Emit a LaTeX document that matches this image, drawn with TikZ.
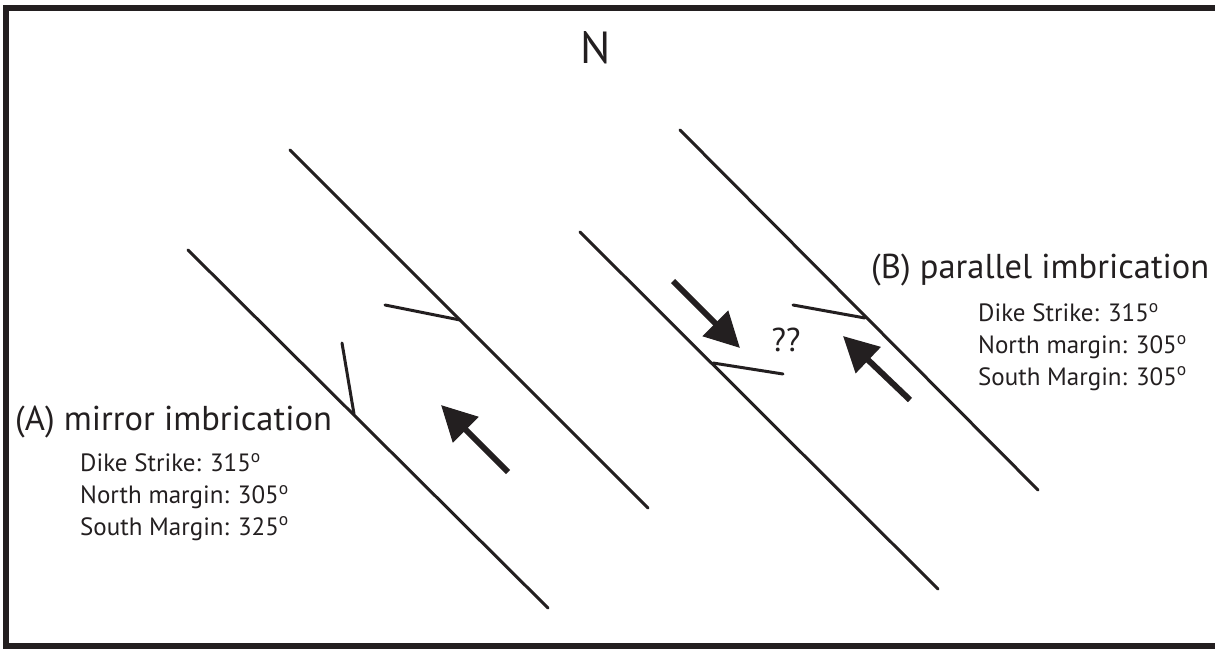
\documentclass[tikz,border=0pt]{standalone}
\usepackage{fontspec}
\setmainfont{PT Sans}
\usetikzlibrary{arrows.meta}
\definecolor{ink}{HTML}{231F20}
\begin{document}
\begin{tikzpicture}[x=1pt,y=-1pt,
  dike/.style={draw=ink,line width=3pt,line cap=round},
  tick/.style={draw=ink,line width=3pt,line cap=round,line join=miter},
  flow/.style={draw=ink,fill=ink,line width=6pt,-{Triangle[length=35pt,width=35pt]}},
  big/.style={text=ink,font=\fontsize{34.5}{38}\selectfont,inner sep=0pt,anchor=base west},
  small/.style={text=ink,font=\fontsize{25}{29}\selectfont,inner sep=0pt,anchor=base west}]
\useasboundingbox (0,0) rectangle (1215,648);
\begin{scope}
\clip (0,0) rectangle (1215,648);
\draw[ink,line width=6pt] (5.5,8) rectangle (1230,646);
\end{scope}
\node[text=ink,font=\fontsize{45}{48}\selectfont,inner sep=0pt,anchor=base] (N) at (596,63.5) {N};
% dikes
\coordinate (a1s) at (188,250); \coordinate (a1e) at (548,608);
\coordinate (a2s) at (290,150); \coordinate (a2e) at (648,508);
\coordinate (b1s) at (580,232); \coordinate (b1e) at (938,589);
\coordinate (b2s) at (680,130); \coordinate (b2e) at (1038,490);
\draw[dike] (a1s) -- (a1e);
\draw[dike] (a2s) -- (a2e);
\draw[dike] (b1s) -- (b1e);
\draw[dike] (b2s) -- (b2e);
% imbrication ticks
\coordinate (ta1) at (342,343); \coordinate (ta1b) at (354,414);
\coordinate (ta2) at (385,305); \coordinate (ta2b) at (460,320);
\coordinate (tb1) at (783,374); \coordinate (tb1b) at (713,363);
\coordinate (tb2) at (793,305); \coordinate (tb2b) at (865,318);
\draw[tick] (ta1) -- (ta1b);
\draw[tick] (ta2) -- (ta2b);
\draw[tick] (tb1) -- (tb1b);
\draw[tick] (tb2) -- (tb2b);
% flow arrows
\coordinate (fa0) at (508,472); \coordinate (fa1) at (441,405);
\coordinate (fb0) at (673,281); \coordinate (fb1) at (740,348);
\coordinate (fc0) at (910,400); \coordinate (fc1) at (843,336);
\draw[flow] (fa0) -- (fa1);
\draw[flow] (fb0) -- (fb1);
\draw[flow] (fc0) -- (fc1);
\node[text=ink,font=\fontsize{33}{36}\selectfont,inner sep=0pt,anchor=base] (qq) at (786,351.5) {??};
% labels A
\node[big] (la) at (15,430) {(A) mirror imbrication};
\node[small] (la1) at (80,471.7) {Dike Strike: 315\textsuperscript{o}};
\node[small] (la2) at (80,503.3) {North margin: 305\textsuperscript{o}};
\node[small] (la3) at (80,535) {South Margin: 325\textsuperscript{o}};
% labels B
\node[big] (lb) at (871,278.3) {(B) parallel imbrication};
\node[small] (lb1) at (978,321.7) {Dike Strike: 315\textsuperscript{o}};
\node[small] (lb2) at (978,353.3) {North margin: 305\textsuperscript{o}};
\node[small] (lb3) at (978,385) {South Margin: 305\textsuperscript{o}};
\end{tikzpicture}
\end{document}
